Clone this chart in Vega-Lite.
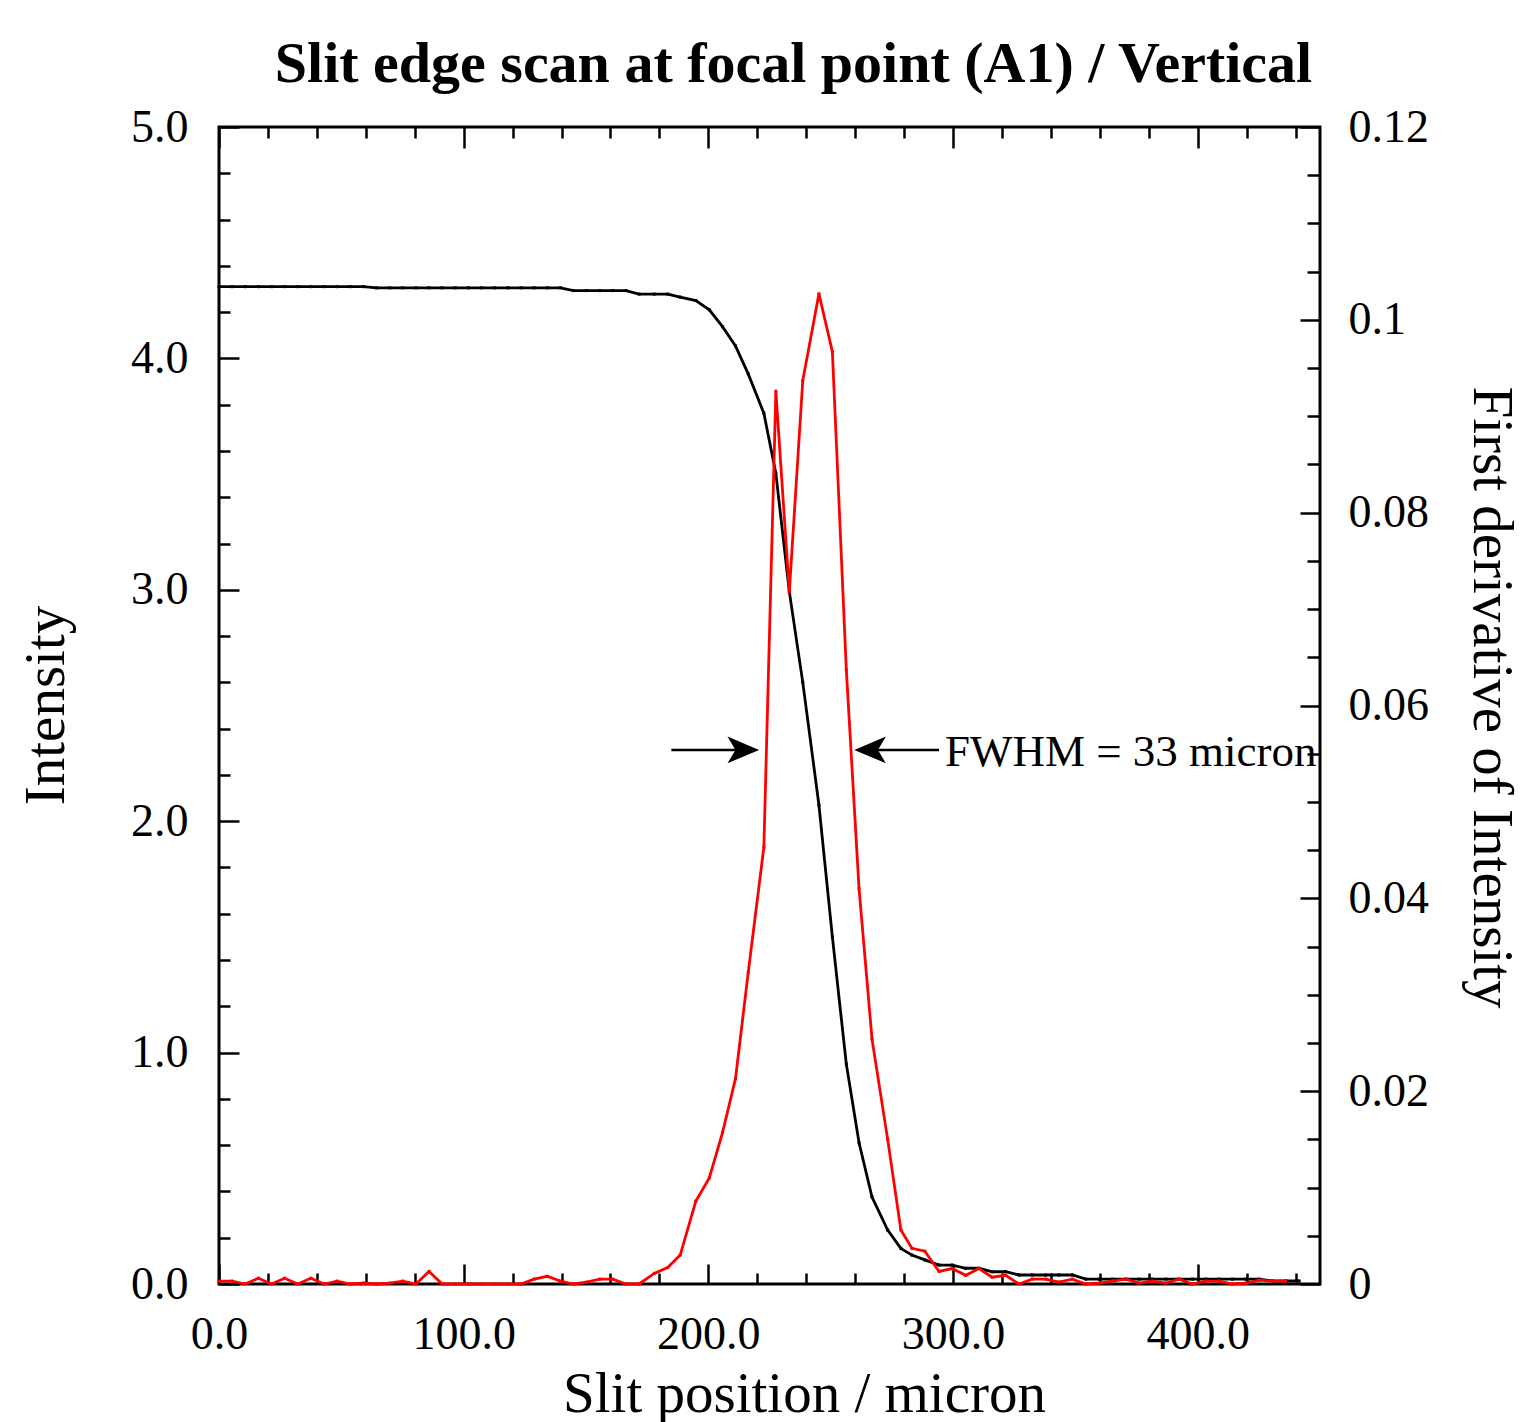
{
  "$schema": "https://vega.github.io/schema/vega-lite/v6.json",
  "width": 1101,
  "height": 1157,
  "autosize": {"type": "none"},
  "padding": {"left": 219, "top": 127, "right": 207, "bottom": 138},
  "background": "white",
  "config": {
    "font": "Liberation Serif",
    "view": {"stroke": "black", "strokeWidth": 3},
    "axis": {"grid": false, "domain": false, "tickColor": "black", "tickWidth": 2.5, "labelColor": "black", "titleColor": "black", "labelFont": "Liberation Serif", "titleFont": "Liberation Serif", "titleFontWeight": "normal", "labelFlush": false, "labelOverlap": false}
  },
  "title": {"text": "Slit edge scan at focal point (A1) / Vertical", "font": "Liberation Serif", "fontSize": 58, "fontWeight": "bold", "color": "black", "anchor": "middle", "dx": 24, "offset": -36, "baseline": "alphabetic"},
  "datasets": {
    "scan": [
      {"x": 0, "intensity": 4.31, "deriv": 0.0003},
      {"x": 5.37, "intensity": 4.31, "deriv": 0.0003},
      {"x": 10.73, "intensity": 4.31, "deriv": 0},
      {"x": 16.1, "intensity": 4.31, "deriv": 0.0006},
      {"x": 21.46, "intensity": 4.31, "deriv": 0},
      {"x": 26.83, "intensity": 4.31, "deriv": 0.0006},
      {"x": 32.19, "intensity": 4.31, "deriv": 0},
      {"x": 37.56, "intensity": 4.31, "deriv": 0.0006},
      {"x": 42.93, "intensity": 4.31, "deriv": 0},
      {"x": 48.29, "intensity": 4.31, "deriv": 0.0003},
      {"x": 53.66, "intensity": 4.31, "deriv": 0},
      {"x": 59.02, "intensity": 4.31, "deriv": 0.0001},
      {"x": 64.39, "intensity": 4.305, "deriv": 0},
      {"x": 69.76, "intensity": 4.305, "deriv": 0.0001},
      {"x": 75.12, "intensity": 4.305, "deriv": 0.0003},
      {"x": 80.49, "intensity": 4.305, "deriv": 0},
      {"x": 85.85, "intensity": 4.305, "deriv": 0.0013},
      {"x": 91.22, "intensity": 4.305, "deriv": 0},
      {"x": 96.59, "intensity": 4.305, "deriv": 0},
      {"x": 101.95, "intensity": 4.305, "deriv": 0},
      {"x": 107.32, "intensity": 4.305, "deriv": 0},
      {"x": 112.68, "intensity": 4.305, "deriv": 0},
      {"x": 118.05, "intensity": 4.305, "deriv": 0},
      {"x": 123.42, "intensity": 4.305, "deriv": 0},
      {"x": 128.78, "intensity": 4.305, "deriv": 0.0005},
      {"x": 134.15, "intensity": 4.305, "deriv": 0.0008},
      {"x": 139.51, "intensity": 4.305, "deriv": 0.0003},
      {"x": 144.88, "intensity": 4.293, "deriv": 0},
      {"x": 150.25, "intensity": 4.293, "deriv": 0.0002},
      {"x": 155.61, "intensity": 4.293, "deriv": 0.0005},
      {"x": 160.98, "intensity": 4.293, "deriv": 0.0005},
      {"x": 166.34, "intensity": 4.293, "deriv": 0},
      {"x": 171.7, "intensity": 4.278, "deriv": 0},
      {"x": 177.9, "intensity": 4.278, "deriv": 0.0011},
      {"x": 183.4, "intensity": 4.278, "deriv": 0.0017},
      {"x": 188.5, "intensity": 4.265, "deriv": 0.003},
      {"x": 194.9, "intensity": 4.25, "deriv": 0.0086},
      {"x": 200.4, "intensity": 4.21, "deriv": 0.011},
      {"x": 205.8, "intensity": 4.137, "deriv": 0.0157},
      {"x": 211.1, "intensity": 4.054, "deriv": 0.0213},
      {"x": 216.3, "intensity": 3.933, "deriv": 0.0323},
      {"x": 222.7, "intensity": 3.763, "deriv": 0.0453},
      {"x": 227.6, "intensity": 3.503, "deriv": 0.0926},
      {"x": 233.1, "intensity": 2.992, "deriv": 0.0718},
      {"x": 238.6, "intensity": 2.6, "deriv": 0.0937},
      {"x": 245.2, "intensity": 2.07, "deriv": 0.1027},
      {"x": 250.7, "intensity": 1.5, "deriv": 0.0967},
      {"x": 256.4, "intensity": 0.95, "deriv": 0.0637},
      {"x": 261.6, "intensity": 0.61, "deriv": 0.041},
      {"x": 266.9, "intensity": 0.376, "deriv": 0.0254},
      {"x": 273.3, "intensity": 0.233, "deriv": 0.015},
      {"x": 278.7, "intensity": 0.154, "deriv": 0.0056},
      {"x": 283.2, "intensity": 0.125, "deriv": 0.0037},
      {"x": 288.5, "intensity": 0.104, "deriv": 0.0034},
      {"x": 294.3, "intensity": 0.082, "deriv": 0.0013},
      {"x": 299.7, "intensity": 0.082, "deriv": 0.0016},
      {"x": 305.2, "intensity": 0.068, "deriv": 0.0009},
      {"x": 310.6, "intensity": 0.068, "deriv": 0.0016},
      {"x": 316.0, "intensity": 0.053, "deriv": 0.0007},
      {"x": 321.5, "intensity": 0.053, "deriv": 0.0009},
      {"x": 327.0, "intensity": 0.039, "deriv": 0},
      {"x": 332.4, "intensity": 0.039, "deriv": 0.0005},
      {"x": 337.9, "intensity": 0.039, "deriv": 0.0005},
      {"x": 343.3, "intensity": 0.039, "deriv": 0.0002},
      {"x": 348.8, "intensity": 0.039, "deriv": 0.0005},
      {"x": 354.3, "intensity": 0.021, "deriv": 0},
      {"x": 359.7, "intensity": 0.021, "deriv": 0.0001},
      {"x": 365.2, "intensity": 0.021, "deriv": 0.0003},
      {"x": 370.6, "intensity": 0.021, "deriv": 0.0005},
      {"x": 376.1, "intensity": 0.021, "deriv": 0.0001},
      {"x": 381.5, "intensity": 0.021, "deriv": 0.0003},
      {"x": 387.0, "intensity": 0.021, "deriv": 0.0001},
      {"x": 392.4, "intensity": 0.021, "deriv": 0.0005},
      {"x": 397.9, "intensity": 0.021, "deriv": 0},
      {"x": 403.3, "intensity": 0.021, "deriv": 0.0003},
      {"x": 408.8, "intensity": 0.021, "deriv": 0.0003},
      {"x": 414.2, "intensity": 0.021, "deriv": 0},
      {"x": 419.7, "intensity": 0.021, "deriv": 0.0001},
      {"x": 425.1, "intensity": 0.021, "deriv": 0.0004},
      {"x": 430.6, "intensity": 0.013, "deriv": 0.0003},
      {"x": 436.0, "intensity": 0.013, "deriv": 0.0003},
      {"x": 441.5, "intensity": 0.013, "deriv": null}
    ],
    "shafts": [
      {"x": 184.9, "x2": 219.0, "y": 2.308},
      {"x": 265.0, "x2": 294.3, "y": 2.308}
    ],
    "headRight": [{"x": 214.3, "y": 2.308}],
    "headLeft": [{"x": 266.1, "y": 2.308}],
    "note": [{"x": 296.7, "y": 2.308, "label": "FWHM = 33 micron"}]
  },
  "resolve": {
    "scale": {"y": "independent"},
    "axis": {"x": "independent", "y": "independent"}
  },
  "layer": [
    {
      "data": {"name": "scan"},
      "mark": {"type": "line", "strokeOpacity": 0},
      "encoding": {
        "x": {"field": "x", "type": "quantitative", "scale": {"domain": [0, 450], "nice": false, "zero": false},
          "axis": {"orient": "bottom", "values": [20, 40, 60, 80, 120, 140, 160, 180, 220, 240, 260, 280, 320, 340, 360, 380, 420, 440], "labels": false, "tickSize": -11, "title": null}},
        "y": {"field": "intensity", "type": "quantitative", "scale": {"domain": [0, 5], "nice": false, "zero": false},
          "axis": {"orient": "left", "values": [0.2, 0.4, 0.6, 0.8, 1.2, 1.4, 1.6, 1.8, 2.2, 2.4, 2.6, 2.8, 3.2, 3.4, 3.6, 3.8, 4.2, 4.4, 4.6, 4.8], "labels": false, "tickSize": -11, "title": null}}
      }
    },
    {
      "data": {"name": "scan"},
      "mark": {"type": "line", "strokeOpacity": 0},
      "encoding": {
        "x": {"field": "x", "type": "quantitative", "scale": {"domain": [0, 450], "nice": false, "zero": false},
          "axis": {"orient": "top", "values": [20, 40, 60, 80, 120, 140, 160, 180, 220, 240, 260, 280, 320, 340, 360, 380, 420, 440], "labels": false, "tickSize": -11, "title": null}},
        "y": {"field": "deriv", "type": "quantitative", "scale": {"domain": [0, 0.12], "nice": false, "zero": false},
          "axis": {"orient": "right", "values": [0.005, 0.01, 0.015, 0.025, 0.03, 0.035, 0.045, 0.05, 0.055, 0.065, 0.07, 0.075, 0.085, 0.09, 0.095, 0.105, 0.11, 0.115], "labels": false, "tickSize": -13, "title": null}}
      }
    },
    {
      "data": {"name": "scan"},
      "mark": {"type": "line", "color": "black", "strokeWidth": 2.8, "point": {"filled": true, "shape": "square", "size": 9, "color": "black"}},
      "encoding": {
        "x": {"field": "x", "type": "quantitative", "scale": {"domain": [0, 450], "nice": false, "zero": false},
          "axis": {"orient": "bottom", "values": [0, 100, 200, 300, 400], "format": ".1f", "labelFontSize": 46, "labelBaseline": "alphabetic", "labelPadding": 84, "tickSize": -20,
            "title": "Slit position / micron", "titleFontSize": 57, "titleX": 585, "titleY": 127, "titleBaseline": "alphabetic", "titleAlign": "center"}},
        "y": {"field": "intensity", "type": "quantitative", "scale": {"domain": [0, 5], "nice": false, "zero": false},
          "axis": {"orient": "left", "values": [0, 1, 2, 3, 4, 5], "format": ".1f", "labelFontSize": 46, "labelPadding": 51, "tickSize": -20,
            "title": "Intensity", "titleFontSize": 57, "titleX": -156, "titleY": 578, "titleAngle": 270, "titleBaseline": "alphabetic", "titleAlign": "center"}}
      }
    },
    {
      "data": {"name": "scan"},
      "mark": {"type": "line", "color": "#ff0000", "strokeWidth": 2.8, "point": {"filled": true, "shape": "square", "size": 9, "color": "#ff0000"}},
      "encoding": {
        "x": {"field": "x", "type": "quantitative", "scale": {"domain": [0, 450], "nice": false, "zero": false},
          "axis": {"orient": "top", "values": [0, 100, 200, 300, 400], "labels": false, "tickSize": -21, "title": null}},
        "y": {"field": "deriv", "type": "quantitative", "scale": {"domain": [0, 0.12], "nice": false, "zero": false},
          "axis": {"orient": "right", "values": [0, 0.02, 0.04, 0.06, 0.08, 0.1, 0.12], "labelExpr": "format(datum.value, '.2~f')", "labelFontSize": 46, "labelPadding": 48, "tickSize": -20,
            "title": "First derivative of Intensity", "titleFontSize": 57, "titleX": 153, "titleY": 570, "titleAngle": 90, "titleBaseline": "alphabetic", "titleAlign": "center"}}
      }
    },
    {
      "data": {"name": "shafts"},
      "mark": {"type": "rule", "color": "black", "strokeWidth": 2.5},
      "encoding": {
        "x": {"field": "x", "type": "quantitative", "scale": {"domain": [0, 450], "nice": false, "zero": false}, "axis": null},
        "x2": {"field": "x2"},
        "y": {"field": "y", "type": "quantitative", "scale": {"domain": [0, 5], "nice": false, "zero": false}, "axis": null}
      }
    },
    {
      "data": {"name": "headRight"},
      "mark": {"type": "point", "shape": "M1,0L-1,-0.85L-0.5,0L-1,0.85Z", "filled": true, "color": "black", "opacity": 1, "size": 1000},
      "encoding": {
        "x": {"field": "x", "type": "quantitative", "scale": {"domain": [0, 450], "nice": false, "zero": false}, "axis": null},
        "y": {"field": "y", "type": "quantitative", "scale": {"domain": [0, 5], "nice": false, "zero": false}, "axis": null}
      }
    },
    {
      "data": {"name": "headLeft"},
      "mark": {"type": "point", "shape": "M-1,0L1,-0.85L0.5,0L1,0.85Z", "filled": true, "color": "black", "opacity": 1, "size": 1000},
      "encoding": {
        "x": {"field": "x", "type": "quantitative", "scale": {"domain": [0, 450], "nice": false, "zero": false}, "axis": null},
        "y": {"field": "y", "type": "quantitative", "scale": {"domain": [0, 5], "nice": false, "zero": false}, "axis": null}
      }
    },
    {
      "data": {"name": "note"},
      "mark": {"type": "text", "align": "left", "baseline": "alphabetic", "dy": 16, "font": "Liberation Serif", "fontSize": 45, "color": "black"},
      "encoding": {
        "x": {"field": "x", "type": "quantitative", "scale": {"domain": [0, 450], "nice": false, "zero": false}, "axis": null},
        "y": {"field": "y", "type": "quantitative", "scale": {"domain": [0, 5], "nice": false, "zero": false}, "axis": null},
        "text": {"field": "label"}
      }
    }
  ]
}
